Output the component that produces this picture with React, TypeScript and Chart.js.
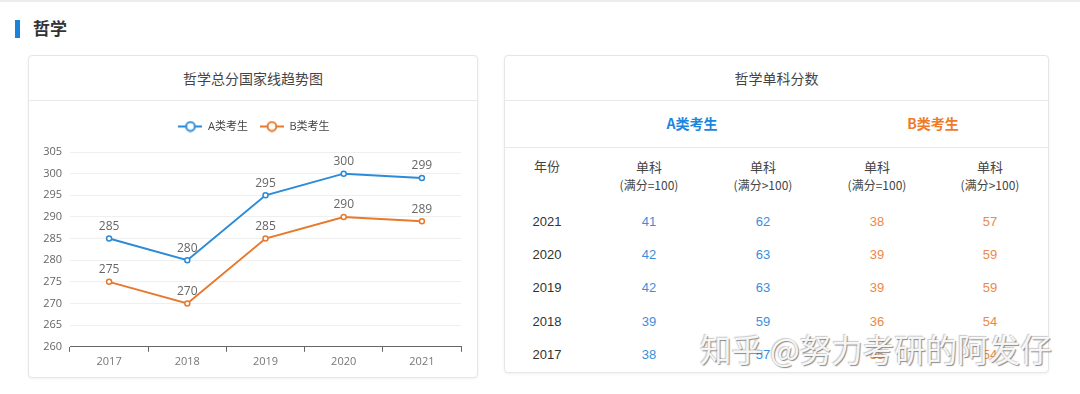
import React, { useEffect, useRef } from "react";
import { Chart, registerables } from "chart.js";

Chart.register(...registerables);

const years = ["2017", "2018", "2019", "2020", "2021"];
const seriesA = [285, 280, 295, 300, 299];
const seriesB = [275, 270, 285, 290, 289];
const seriesNames = ["A类考生", "B类考生"];
const yTicksMin = 260;
const yTicksMax = 305;
const yStep = 5;

const tableYears = ["2021", "2020", "2019", "2018", "2017"];
const aEq100 = [41, 42, 42, 39, 38];
const aGt100 = [62, 63, 63, 59, 57];
const bEq100 = [38, 39, 39, 36, 35];
const bGt100 = [57, 59, 59, 54, 54];

const BLUE = "#2b8bd8";
const ORANGE = "#e8792c";
const CJK = "'Noto Sans CJK SC', sans-serif";
const CHART_FONT = "'Open Sans', 'Noto Sans CJK SC', sans-serif";
const TABLE_FONT = "'Liberation Sans', 'Noto Sans CJK SC', sans-serif";

function makeIcon(color: string) {
  const c = document.createElement("canvas");
  c.width = 24;
  c.height = 12;
  const ctx = c.getContext("2d")!;
  ctx.strokeStyle = color;
  ctx.lineWidth = 2;
  ctx.beginPath();
  ctx.moveTo(0, 6);
  ctx.lineTo(24, 6);
  ctx.stroke();
  ctx.beginPath();
  ctx.arc(12, 6, 4.4, 0, Math.PI * 2);
  ctx.fillStyle = "#fff";
  ctx.fill();
  ctx.stroke();
  return c;
}

const dataLabels = {
  id: "dataLabels",
  afterDatasetsDraw(chart: any) {
    const ctx = chart.ctx;
    ctx.save();
    ctx.font = `12px ${CHART_FONT}`;
    ctx.fillStyle = "#666";
    ctx.textAlign = "center";
    ctx.textBaseline = "bottom";
    chart.data.datasets.forEach((ds: any, i: number) => {
      const meta = chart.getDatasetMeta(i);
      meta.data.forEach((pt: any, j: number) => {
        ctx.fillText(String(ds.data[j]), pt.x, pt.y - 6);
      });
    });
    ctx.restore();
  },
};

const legendMargin = {
  id: "legendMargin",
  beforeInit(chart: any) {
    const legend = chart.legend;
    if (!legend) return;
    const fit = legend.fit;
    legend.fit = function () {
      fit.bind(legend)();
      this.height += 10;
    };
  },
  beforeDraw(chart: any) {
    const legend = chart.legend;
    if (!legend || legend._shifted) return;
    legend.left += 9;
    legend.right += 9;
    legend._shifted = true;
  },
};

function LineChart() {
  const ref = useRef<HTMLCanvasElement>(null);
  useEffect(() => {
    const icons = [makeIcon(BLUE), makeIcon(ORANGE)];
    const chart = new Chart(ref.current!, {
      type: "line",
      data: {
        labels: years,
        datasets: [
          {
            label: seriesNames[0],
            data: seriesA,
            borderColor: BLUE,
            backgroundColor: "#fff",
            borderWidth: 2,
            pointRadius: 2.5,
            pointBorderWidth: 1.5,
            pointBackgroundColor: "#fff",
            pointBorderColor: BLUE,
            tension: 0,
          },
          {
            label: seriesNames[1],
            data: seriesB,
            borderColor: ORANGE,
            backgroundColor: "#fff",
            borderWidth: 2,
            pointRadius: 2.5,
            pointBorderWidth: 1.5,
            pointBackgroundColor: "#fff",
            pointBorderColor: ORANGE,
            tension: 0,
          },
        ],
      },
      options: {
        animation: false,
        responsive: false,
        maintainAspectRatio: false,
        layout: { padding: { top: 8, right: 15, bottom: 5, left: 0 } },
        plugins: {
          tooltip: { enabled: false },
          legend: {
            display: true,
            position: "top",
            labels: {
              usePointStyle: true,
              pointStyleWidth: 24,
              padding: 12,
              color: "#444",
              font: { size: 11, family: CHART_FONT },
              generateLabels: (chart: any) =>
                chart.data.datasets.map((ds: any, i: number) => ({
                  text: ds.label,
                  fillStyle: "#fff",
                  strokeStyle: ds.borderColor,
                  pointStyle: icons[i],
                  fontColor: "#444",
                  hidden: false,
                  datasetIndex: i,
                  lineWidth: 0,
                })),
            },
          },
        },
        scales: {
          x: {
            offset: true,
            grid: {
              display: true,
              offset: true,
              drawOnChartArea: false,
              drawTicks: true,
              tickLength: 5,
              tickColor: "#666",
            },
            border: { display: true, color: "#666", width: 1 },
            ticks: { color: "#777", font: { size: 11, family: CHART_FONT }, padding: 3 },
          },
          y: {
            min: yTicksMin,
            max: yTicksMax,
            afterFit: (s: any) => {
              s.width = 41;
            },
            ticks: {
              stepSize: yStep,
              color: "#666",
              font: { size: 11, family: CHART_FONT },
              padding: 8,
            },
            grid: { color: "#efefef", drawTicks: false },
            border: { display: false },
          },
        },
      },
      plugins: [dataLabels, legendMargin],
    });
    return () => chart.destroy();
  }, []);
  return <canvas ref={ref} width={447} height={275} style={{ display: "block", width: 447, height: 275 }} />;
}

const card: React.CSSProperties = {
  position: "absolute",
  background: "#fff",
  border: "1px solid #e6e6e6",
  borderRadius: 4,
  boxShadow: "0 1px 3px rgba(0,0,0,0.06)",
  boxSizing: "border-box",
  overflow: "hidden",
};

const colCenters = [547, 649, 763, 877, 990];
const rowYs = [222, 255, 288, 322, 355];
const CARD_TOP = 55;

function cellStyle(cx: number, cy: number, color: string, size = 13): React.CSSProperties {
  return {
    position: "absolute",
    left: cx - 60 - 505,
    top: cy - 10 - CARD_TOP - 1,
    width: 120,
    height: 20,
    lineHeight: "20px",
    textAlign: "center",
    color,
    fontSize: size,
    fontFamily: TABLE_FONT,
  };
}

export default function App() {
  const cols = [aEq100, aGt100, bEq100, bGt100];
  const colColors = ["#3a8fdc", "#3a8fdc", "#ee8848", "#ee8848"];
  const heads = ["(满分=100)", "(满分>100)", "(满分=100)", "(满分>100)"];
  return (
    <div
      style={{
        position: "absolute",
        left: 0,
        top: 0,
        width: 1080,
        height: 394,
        background: "#fff",
        overflow: "hidden",
        fontFamily: CJK,
        borderTop: "2px solid #ececec",
        boxSizing: "border-box",
      }}
    >
      <div style={{ position: "absolute", left: 15, top: 18, width: 5, height: 18, background: "#1a82d9" }} />
      <div
        style={{
          position: "absolute",
          left: 33,
          top: 14,
          fontSize: 17,
          fontWeight: 700,
          color: "#333",
          lineHeight: "24px",
          fontFamily: CJK,
        }}
      >
        哲学
      </div>

      <div style={{ ...card, left: 28, top: CARD_TOP - 2, width: 450, height: 323 }}>
        <div
          style={{
            height: 44,
            lineHeight: "44px",
            textAlign: "center",
            fontSize: 14,
            color: "#444",
            borderBottom: "1px solid #e8e8e8",
          }}
        >
          哲学总分国家线趋势图
        </div>
        <LineChart />
      </div>

      <div style={{ ...card, left: 504, top: CARD_TOP - 2, width: 545, height: 318 }}>
        <div
          style={{
            height: 44,
            lineHeight: "44px",
            textAlign: "center",
            fontSize: 14,
            color: "#444",
            borderBottom: "1px solid #e8e8e8",
          }}
        >
          哲学单科分数
        </div>
        <div style={{ position: "absolute", left: 0, top: 147 - CARD_TOP - 1, width: 545, height: 1, background: "#e8e8e8" }} />
        <div
          style={{
            position: "absolute",
            left: 692 - 505 - 60,
            top: 123 - 12 - CARD_TOP - 1,
            width: 120,
            textAlign: "center",
            fontSize: 14,
            fontWeight: 700,
            color: "#1a86e0",
            lineHeight: "24px",
          }}
        >
          A类考生
        </div>
        <div
          style={{
            position: "absolute",
            left: 933 - 505 - 60,
            top: 123 - 12 - CARD_TOP - 1,
            width: 120,
            textAlign: "center",
            fontSize: 14,
            fontWeight: 700,
            color: "#ef7a28",
            lineHeight: "24px",
          }}
        >
          B类考生
        </div>
        <div style={{ ...cellStyle(colCenters[0], 166, "#444"), fontFamily: CJK }}>年份</div>
        {heads.map((h, i) => (
          <React.Fragment key={"h" + i}>
            <div style={{ ...cellStyle(colCenters[i + 1], 167, "#444"), fontFamily: CJK }}>单科</div>
            <div style={{ ...cellStyle(colCenters[i + 1], 185, "#444", 12), fontFamily: CJK }}>{h}</div>
          </React.Fragment>
        ))}
        {tableYears.map((y, r) => (
          <React.Fragment key={y}>
            <div style={cellStyle(colCenters[0], rowYs[r], "#333")}>{y}</div>
            {cols.map((c, i) => (
              <div key={i} style={cellStyle(colCenters[i + 1], rowYs[r], colColors[i])}>
                {c[r]}
              </div>
            ))}
          </React.Fragment>
        ))}
      </div>

      <div
        style={{
          position: "absolute",
          left: 700,
          top: 326,
          fontSize: 31.5,
          color: "rgba(255,255,255,0.92)",
          fontFamily: CJK,
          lineHeight: "40px",
          whiteSpace: "nowrap",
          textShadow: "1px 1px 1px rgba(90,90,90,0.7), -1px -1px 1px rgba(150,150,150,0.5)",
        }}
      >
        知乎 @努力考研的阿发仔
      </div>
    </div>
  );
}
